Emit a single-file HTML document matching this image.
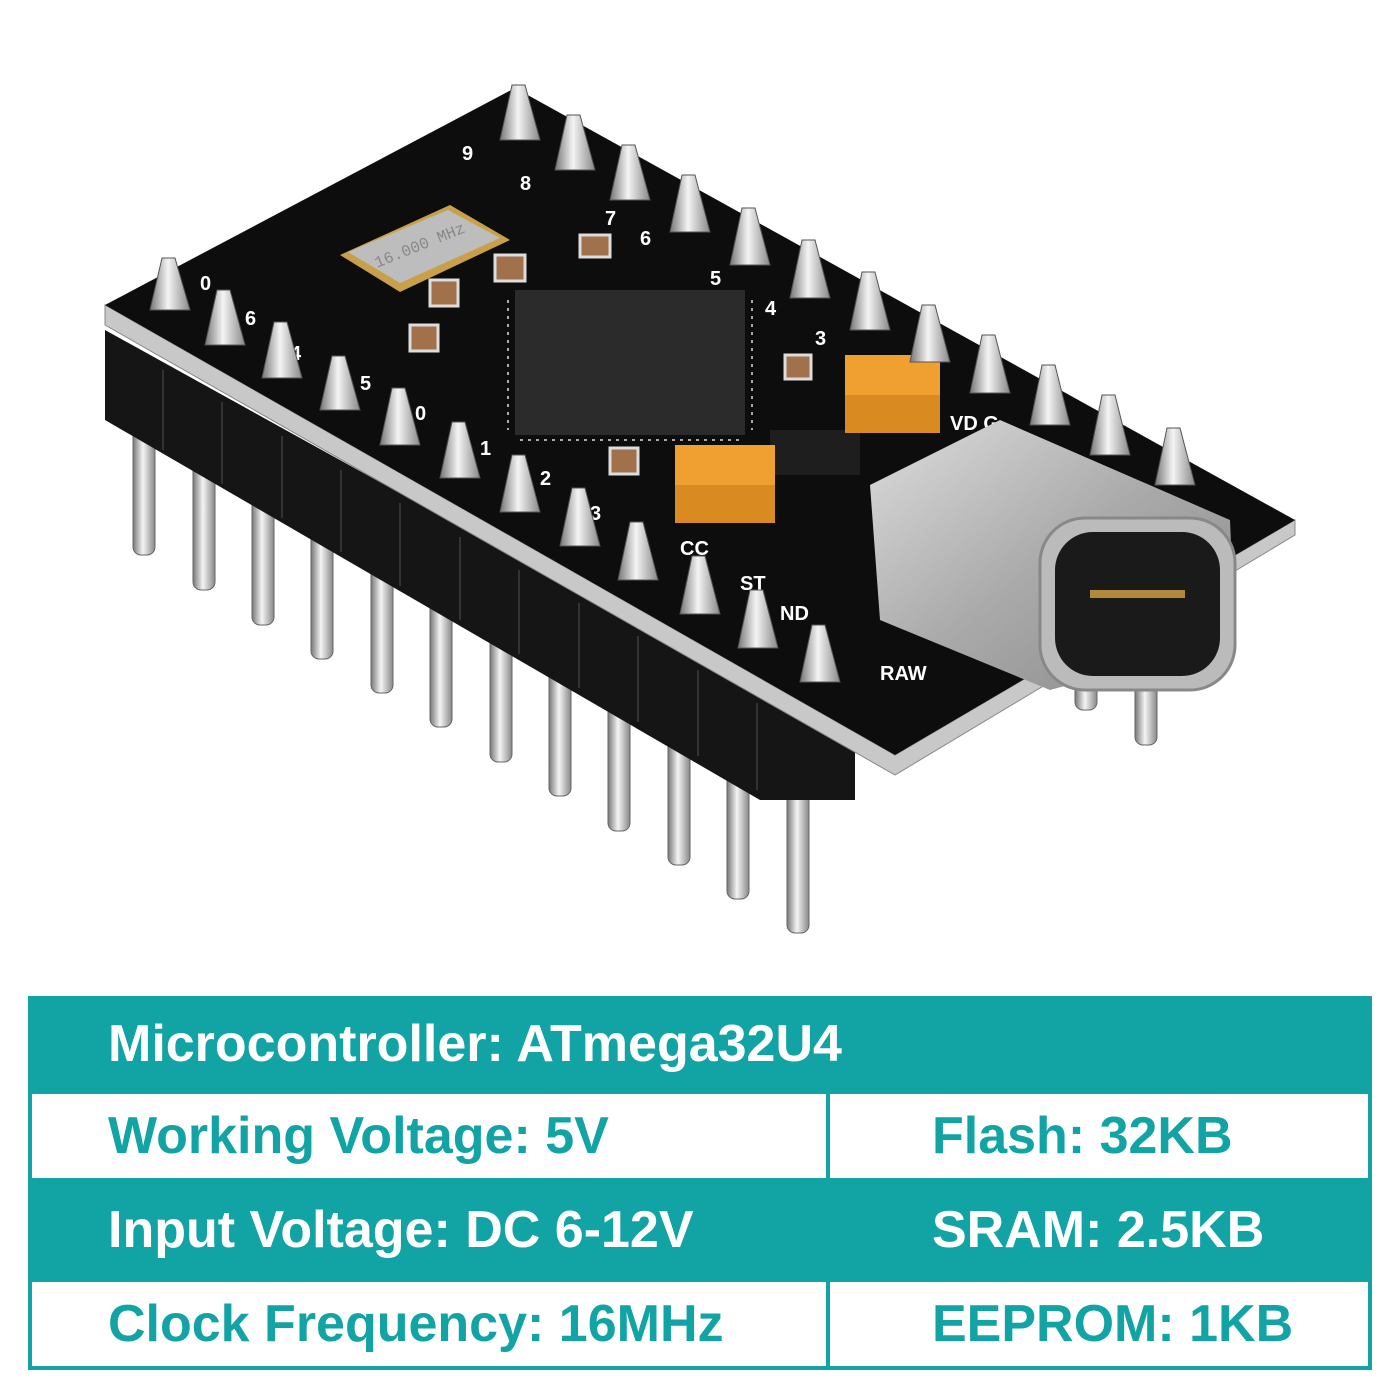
<!DOCTYPE html>
<html><head><meta charset="utf-8"><style>
html,body{margin:0;padding:0;background:#fff;}
body{width:1400px;height:1400px;position:relative;overflow:hidden;font-family:"Liberation Sans Narrow","Liberation Sans",sans-serif;}
.t{position:absolute;left:28px;top:996px;width:1344px;height:374px;background:#12a3a5;}
.c{position:absolute;box-sizing:border-box;font-weight:bold;font-size:52px;line-height:1;display:flex;align-items:center;white-space:nowrap;}
.w{background:#fff;color:#12a3a5;}
.g{color:#fff;}
</style></head><body>
<svg width="1400" height="990" style="position:absolute;left:0;top:0">
<defs>
<linearGradient id="pin" x1="0" x2="1"><stop offset="0" stop-color="#777"/><stop offset=".45" stop-color="#f4f4f4"/><stop offset="1" stop-color="#888"/></linearGradient>
<linearGradient id="usb" x1="0" x2="1" y1="0" y2="1"><stop offset="0" stop-color="#ddd"/><stop offset=".5" stop-color="#aaa"/><stop offset="1" stop-color="#888"/></linearGradient>
</defs>
<!-- pins below header -->
<g stroke="#666" stroke-width="1">
<rect x="133" y="410" width="22" height="145" rx="8" fill="url(#pin)"/>
<rect x="193" y="445" width="22" height="145" rx="8" fill="url(#pin)"/>
<rect x="252" y="480" width="22" height="145" rx="8" fill="url(#pin)"/>
<rect x="311" y="514" width="22" height="145" rx="8" fill="url(#pin)"/>
<rect x="371" y="548" width="22" height="145" rx="8" fill="url(#pin)"/>
<rect x="430" y="582" width="22" height="145" rx="8" fill="url(#pin)"/>
<rect x="490" y="617" width="22" height="145" rx="8" fill="url(#pin)"/>
<rect x="549" y="651" width="22" height="145" rx="8" fill="url(#pin)"/>
<rect x="608" y="686" width="22" height="145" rx="8" fill="url(#pin)"/>
<rect x="668" y="720" width="22" height="145" rx="8" fill="url(#pin)"/>
<rect x="727" y="754" width="22" height="145" rx="8" fill="url(#pin)"/>
<rect x="787" y="788" width="22" height="145" rx="8" fill="url(#pin)"/>
<rect x="1075" y="600" width="22" height="110" rx="8" fill="url(#pin)"/>
<rect x="1135" y="600" width="22" height="145" rx="8" fill="url(#pin)"/>
</g>
<!-- header -->
<polygon points="105,330 855,745 855,800 760,800 105,420" fill="#151515"/>
<g stroke="#333" stroke-width="2">
<line x1="163" y1="370" x2="163" y2="450"/><line x1="222" y1="402" x2="222" y2="484"/>
<line x1="282" y1="436" x2="282" y2="518"/><line x1="341" y1="470" x2="341" y2="552"/>
<line x1="400" y1="503" x2="400" y2="586"/><line x1="460" y1="537" x2="460" y2="620"/>
<line x1="519" y1="570" x2="519" y2="654"/><line x1="579" y1="603" x2="579" y2="688"/>
<line x1="638" y1="636" x2="638" y2="722"/><line x1="698" y1="670" x2="698" y2="756"/>
<line x1="757" y1="703" x2="757" y2="790"/>
</g>
<!-- board edge -->
<polygon points="105,305 895,755 1295,520 1295,535 895,775 105,325" fill="#c8c8c8" stroke="#888"/>
<!-- board top -->
<polygon points="105,305 515,88 1295,520 895,755" fill="#0d0d0d"/>
<!-- crystal -->
<polygon points="340,255 450,205 510,240 400,292" fill="#c9a04a"/>
<polygon points="348,252 448,210 500,238 400,283" fill="#bdbdbd"/>
<text x="372" y="258" font-family="Liberation Mono" font-size="16" fill="#888" transform="rotate(-22 400 250)">16.000 MHz</text>
<!-- small parts -->
<g fill="#a0714a" stroke="#ddd" stroke-width="3">
<rect x="580" y="235" width="30" height="22"/><rect x="495" y="255" width="30" height="26"/>
<rect x="430" y="280" width="28" height="26"/><rect x="410" y="325" width="28" height="26"/>
<rect x="785" y="355" width="26" height="24"/><rect x="610" y="448" width="28" height="26"/>
</g>
<!-- chip -->
<rect x="515" y="290" width="230" height="145" fill="#2b2b2b"/>
<g stroke="#aaa" stroke-width="2">
<line x1="520" y1="440" x2="740" y2="440" stroke-dasharray="3 5"/>
<line x1="508" y1="300" x2="508" y2="430" stroke-dasharray="3 5"/>
<line x1="752" y1="300" x2="752" y2="430" stroke-dasharray="3 5"/>
</g>
<rect x="770" y="430" width="90" height="45" fill="#1e1e1e"/>
<!-- tantalum caps -->
<g><rect x="845" y="355" width="95" height="50" fill="#f0a030"/><rect x="845" y="395" width="95" height="38" fill="#d98a20"/></g>
<g><rect x="675" y="445" width="100" height="50" fill="#f0a030"/><rect x="675" y="485" width="100" height="38" fill="#d98a20"/></g>
<!-- white labels -->
<g fill="#fff" font-family="Liberation Sans" font-weight="bold" font-size="20">
<text x="462" y="160">9</text><text x="520" y="190">8</text><text x="605" y="225">7</text><text x="640" y="245">6</text>
<text x="710" y="285">5</text><text x="765" y="315">4</text><text x="815" y="345">3</text>
<text x="200" y="290">0</text><text x="245" y="325">6</text><text x="290" y="360">4</text><text x="360" y="390">5</text>
<text x="415" y="420">0</text><text x="480" y="455">1</text><text x="540" y="485">2</text><text x="590" y="520">3</text>
<text x="680" y="555">CC</text><text x="740" y="590">ST</text><text x="780" y="620">ND</text><text x="880" y="680">RAW</text>
<text x="950" y="430">VD G</text>
</g>
<!-- top pins -->
<g fill="url(#pin)" stroke="#555" stroke-width="1">
<path d="M150,310 L162,258 L175,258 L190,310 Z"/><path d="M205,345 L217,290 L230,290 L245,345 Z"/>
<path d="M262,378 L274,322 L287,322 L302,378 Z"/><path d="M320,410 L332,356 L345,356 L360,410 Z"/>
<path d="M380,445 L392,388 L405,388 L420,445 Z"/><path d="M440,478 L452,422 L465,422 L480,478 Z"/>
<path d="M500,512 L512,455 L525,455 L540,512 Z"/><path d="M560,546 L572,488 L585,488 L600,546 Z"/>
<path d="M618,580 L630,522 L643,522 L658,580 Z"/><path d="M680,614 L692,556 L705,556 L720,614 Z"/>
<path d="M738,648 L750,590 L763,590 L778,648 Z"/><path d="M800,682 L812,625 L825,625 L840,682 Z"/>
<path d="M500,140 L512,85 L525,85 L540,140 Z"/><path d="M555,170 L567,115 L580,115 L595,170 Z"/>
<path d="M610,200 L622,145 L635,145 L650,200 Z"/><path d="M670,232 L682,175 L695,175 L710,232 Z"/>
<path d="M730,265 L742,208 L755,208 L770,265 Z"/><path d="M790,298 L802,240 L815,240 L830,298 Z"/>
<path d="M850,330 L862,272 L875,272 L890,330 Z"/><path d="M910,362 L922,305 L935,305 L950,362 Z"/>
<path d="M970,393 L982,335 L995,335 L1010,393 Z"/><path d="M1030,425 L1042,365 L1055,365 L1070,425 Z"/>
<path d="M1090,455 L1102,395 L1115,395 L1130,455 Z"/><path d="M1155,485 L1167,428 L1180,428 L1195,485 Z"/>
</g>
<!-- USB-C -->
<polygon points="870,485 1000,420 1230,520 1235,640 1050,690 880,620" fill="url(#usb)"/>
<rect x="1040" y="518" width="195" height="172" rx="45" fill="#bbb" stroke="#888" stroke-width="3"/>
<rect x="1055" y="532" width="165" height="144" rx="38" fill="#1a1a1a"/>
<rect x="1090" y="590" width="95" height="8" fill="#b08a3a"/>
</svg>
<div class="t">
<div class="c g" style="left:0;top:0;width:1344px;height:96px;padding-left:80px;">Microcontroller: ATmega32U4</div>
<div class="c w" style="left:4px;top:98px;width:794px;height:84px;padding-left:76px;">Working Voltage: 5V</div>
<div class="c w" style="left:802px;top:98px;width:538px;height:84px;padding-left:102px;">Flash: 32KB</div>
<div class="c g" style="left:0;top:186px;width:798px;height:96px;padding-left:80px;">Input Voltage: DC 6-12V</div>
<div class="c g" style="left:802px;top:186px;width:542px;height:96px;padding-left:102px;">SRAM: 2.5KB</div>
<div class="c w" style="left:4px;top:286px;width:794px;height:84px;padding-left:76px;">Clock Frequency: 16MHz</div>
<div class="c w" style="left:802px;top:286px;width:538px;height:84px;padding-left:102px;">EEPROM: 1KB</div>
</div>
</body></html>
